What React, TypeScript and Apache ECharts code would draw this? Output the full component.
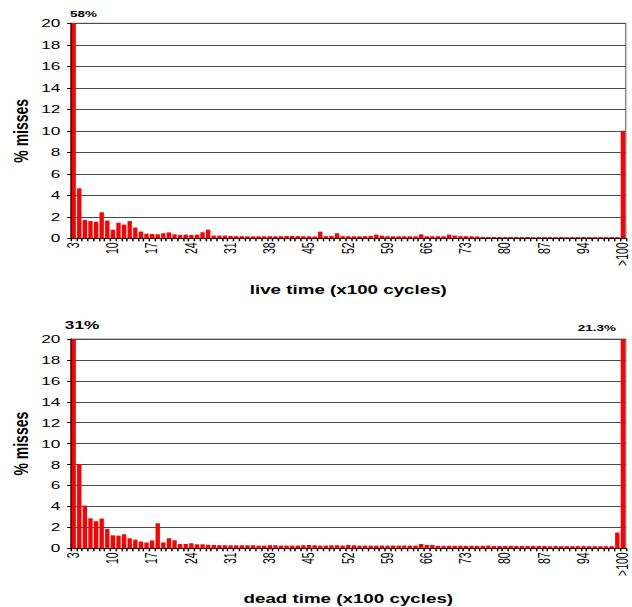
import React, { useEffect, useRef } from 'react';
import * as echarts from 'echarts';

// Histogram of L2 miss percentages by live time / dead time (x100 cycles).
// Buckets run from 3 to 100, followed by an overflow bucket ">100".
const categories: string[] = [
  ...Array.from({ length: 98 }, (_, i) => String(i + 3)),
  '>100',
];

const liveTime: number[] = [
  58, 4.65, 1.7, 1.6, 1.55, 2.42, 1.65, 0.8, 1.45, 1.27,
  1.6, 1.0, 0.63, 0.43, 0.4, 0.37, 0.47, 0.55, 0.37, 0.31,
  0.34, 0.31, 0.34, 0.56, 0.8, 0.25, 0.25, 0.25, 0.22, 0.2,
  0.2, 0.19, 0.19, 0.19, 0.19, 0.2, 0.19, 0.2, 0.22, 0.22,
  0.2, 0.2, 0.19, 0.17, 0.62, 0.2, 0.22, 0.47, 0.2, 0.2,
  0.19, 0.19, 0.2, 0.22, 0.34, 0.25, 0.2, 0.19, 0.19, 0.19,
  0.19, 0.19, 0.37, 0.19, 0.19, 0.19, 0.19, 0.34, 0.25, 0.2,
  0.2, 0.19, 0.17, 0.13, 0.12, 0.12, 0.12, 0.11, 0.12, 0.12,
  0.11, 0.12, 0.11, 0.11, 0.12, 0.11, 0.11, 0.12, 0.11, 0.11,
  0.11, 0.12, 0.11, 0.11, 0.11, 0.11, 0.12, 0.11, 10,
];

const deadTime: number[] = [
  31, 8.04, 4.08, 2.87, 2.58, 2.84, 1.85, 1.24, 1.21, 1.34,
  0.96, 0.83, 0.65, 0.55, 0.75, 2.39, 0.56, 0.96, 0.77, 0.41,
  0.41, 0.48, 0.38, 0.38, 0.33, 0.32, 0.3, 0.29, 0.29, 0.29,
  0.29, 0.29, 0.29, 0.26, 0.26, 0.3, 0.29, 0.26, 0.26, 0.26,
  0.26, 0.29, 0.32, 0.29, 0.26, 0.26, 0.29, 0.29, 0.26, 0.32,
  0.29, 0.26, 0.26, 0.26, 0.26, 0.26, 0.26, 0.26, 0.26, 0.26,
  0.26, 0.26, 0.41, 0.32, 0.32, 0.24, 0.24, 0.24, 0.24, 0.24,
  0.24, 0.24, 0.22, 0.24, 0.26, 0.22, 0.22, 0.22, 0.24, 0.22,
  0.22, 0.22, 0.22, 0.22, 0.22, 0.2, 0.22, 0.2, 0.2, 0.2,
  0.2, 0.2, 0.2, 0.2, 0.2, 0.2, 0.2, 1.5, 21.3,
];

const axisTitles: string[] = ['live time (x100 cycles)', 'dead time (x100 cycles)'];
const yTitle = '% misses';
const Y_MAX = 20;
const Y_STEP = 2;

// The figure is drawn narrow and stretched horizontally, like a widened export.
const STRETCH = 1.5;
const BASE_W = Math.round(632 / STRETCH);
const BASE_H = 607;
const FONT = '"Liberation Sans", Arial, Helvetica, sans-serif';
const BAR_RED = '#ff0000';

type Callout = { fontSize: number; dx: number; distance: number };

// Bars that overflow the axis get their true value printed above them.
function withCallouts(values: number[], callouts: Record<number, Callout>) {
  return values.map((v, i) => {
    const c = callouts[i];
    if (!c) return v;
    return {
      value: v,
      label: {
        show: true,
        position: 'top',
        distance: c.distance,
        offset: [c.dx, 0],
        formatter: '{c}%',
        fontFamily: FONT,
        fontWeight: 'bold',
        fontSize: c.fontSize,
        color: '#000',
      },
    };
  });
}

const gridLeft = 47.2;
const gridRight = BASE_W - 416.8;

function xAxis(gridIndex: number, title: string, nameGap: number) {
  return {
    type: 'category',
    gridIndex,
    data: categories,
    boundaryGap: true,
    axisLine: { show: true, lineStyle: { color: '#000', width: 1 } },
    axisTick: { show: true, interval: 0, length: 3, lineStyle: { color: '#000', width: 1 } },
    axisLabel: {
      interval: 6,
      rotate: 90,
      margin: 4,
      fontSize: 10.5,
      color: '#000',
      fontFamily: FONT,
    },
    splitLine: { show: false },
    name: title,
    nameLocation: 'middle',
    nameGap,
    nameMoveOverlap: false,
    nameTextStyle: { fontFamily: FONT, fontWeight: 'bold', fontSize: 12.5, color: '#000' },
  };
}

function yAxis(gridIndex: number) {
  return {
    type: 'value',
    gridIndex,
    min: 0,
    max: Y_MAX,
    interval: Y_STEP,
    axisLine: { show: true, lineStyle: { color: '#000', width: 1 } },
    axisTick: { show: true, length: 2.5, lineStyle: { color: '#000', width: 1 } },
    axisLabel: { fontSize: 11.5, color: '#000', margin: 7, fontFamily: FONT },
    splitLine: { show: true, lineStyle: { color: '#4a4a4a', width: 1 } },
    name: yTitle,
    nameLocation: 'middle',
    nameGap: 26,
    nameRotate: 90,
    nameMoveOverlap: false,
    nameTextStyle: { fontFamily: FONT, fontWeight: 'bold', fontSize: 14, color: '#000' },
  };
}

function barSeries(idx: number, data: any[]) {
  return {
    type: 'bar',
    xAxisIndex: idx,
    yAxisIndex: idx,
    data,
    clip: true,
    barCategoryGap: '22%',
    itemStyle: { color: BAR_RED },
    emphasis: { disabled: true },
  };
}

const gridBase = {
  left: gridLeft,
  right: gridRight,
  containLabel: false,
  outerBoundsMode: 'none',
  show: true,
  borderColor: '#888',
  borderWidth: 1,
  backgroundColor: 'transparent',
};

const option = {
  animation: false,
  backgroundColor: '#fff',
  grid: [
    { ...gridBase, top: 23.3, height: 215 },
    { ...gridBase, top: 339, height: 209.3 },
  ],
  xAxis: [xAxis(0, axisTitles[0], 45), xAxis(1, axisTitles[1], 44)],
  yAxis: [yAxis(0), yAxis(1)],
  series: [
    barSeries(0, withCallouts(liveTime, { 0: { fontSize: 9, dx: 6.5, distance: 5 } })),
    barSeries(
      1,
      withCallouts(deadTime, {
        0: { fontSize: 11.5, dx: 5.6, distance: 8 },
        98: { fontSize: 9, dx: -17.4, distance: 7 },
      }),
    ),
  ],
};

export default function App() {
  const ref = useRef<HTMLDivElement>(null);
  useEffect(() => {
    if (!ref.current) return;
    const chart = echarts.init(ref.current, undefined, {
      renderer: 'svg',
      width: BASE_W,
      height: BASE_H,
    });
    chart.setOption(option as any);
    return () => chart.dispose();
  }, []);
  return (
    <div
      ref={ref}
      style={{
        position: 'absolute',
        left: 0,
        top: 0,
        width: BASE_W,
        height: BASE_H,
        transform: `scaleX(${632 / BASE_W})`,
        transformOrigin: '0 0',
      }}
    />
  );
}
